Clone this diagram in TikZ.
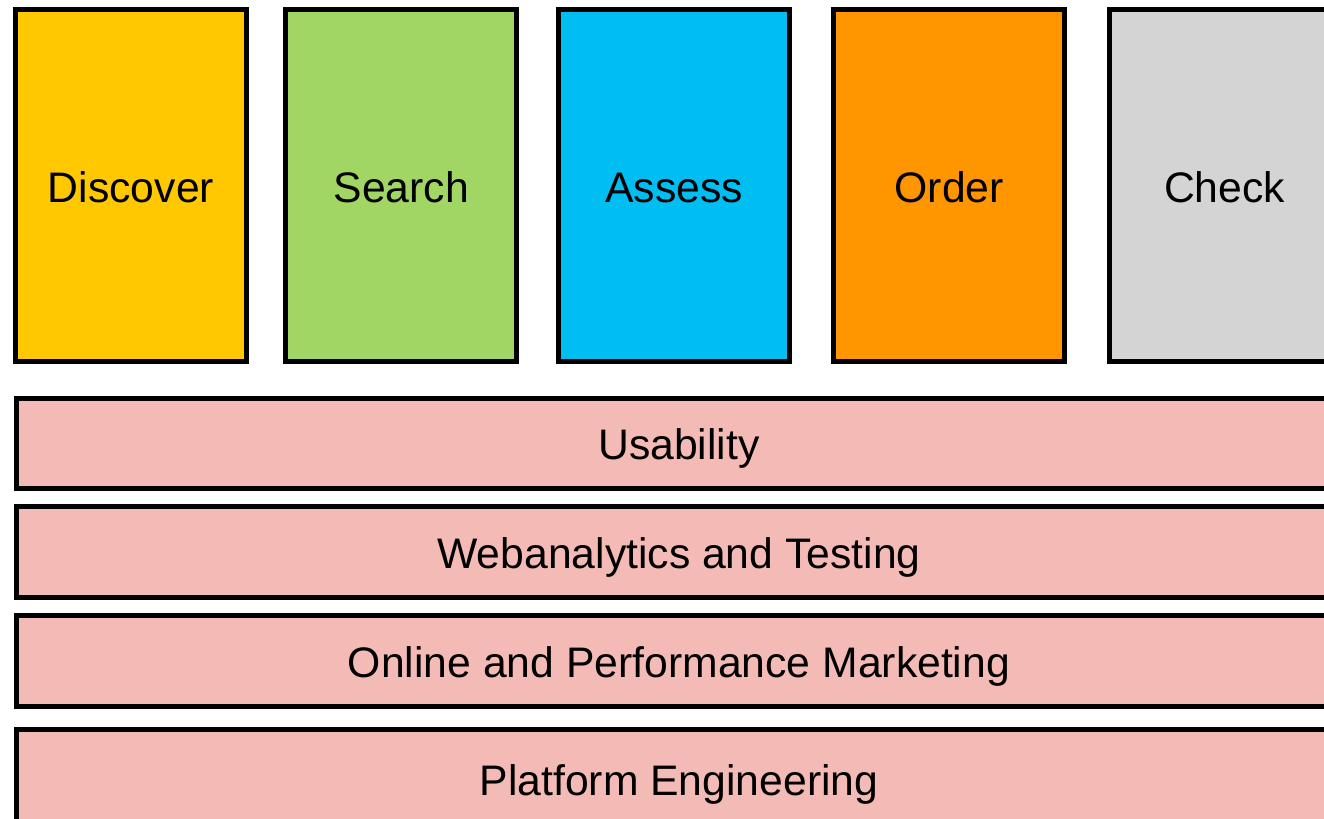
\documentclass[tikz,border=0pt]{standalone}
\usepackage{fontspec}
\setmainfont{Liberation Sans}
\definecolor{discoveryellow}{RGB}{255,200,0}
\definecolor{searchgreen}{RGB}{162,214,100}
\definecolor{assessblue}{RGB}{0,190,242}
\definecolor{orderorange}{RGB}{255,150,0}
\definecolor{checkgrey}{RGB}{212,212,212}
\definecolor{layerpink}{RGB}{244,187,182}
\tikzset{
    phasebox/.style={draw, line width=0.1cm, minimum width=4.62cm, minimum height=7.05cm,
        inner sep=0pt, text height=0.84cm, text depth=0.16cm, font=\fontsize{24.3}{28}\selectfont},
    layerbox/.style={draw, fill=layerpink, line width=0.1cm, minimum width=26.52cm,
        inner sep=0pt, text height=0.8cm, text depth=0.16cm, font=\fontsize{24.3}{28}\selectfont},
}
\begin{document}
\begin{tikzpicture}[x=0.02cm, y=-0.02cm]
        % Fix the page to the size of the reference
        \useasboundingbox (0, 0) rectangle (1324, 818);
        \clip (0, 0) rectangle (1324, 818);

        % Phases of the journey, side by side
        \foreach \name/\x/\col/\txt in {
            discover/131/discoveryellow/Discover,
            search/401.4/searchgreen/Search,
            assess/674.2/assessblue/Assess,
            order/949.2/orderorange/Order,
            check/1224.5/checkgrey/Check
        }
        \node[phasebox, fill=\col] (\name) at (\x, 185.75) {\txt};

        % Layers running under all phases (the last one runs off the page)
        \foreach \name/\y/\h/\txt in {
            usability/443.75/1.81cm/Usability,
            webanalytics/552/1.82cm/Webanalytics and Testing,
            marketing/661/1.82cm/Online and Performance Marketing,
            engineering/779.5/2cm/Platform Engineering
        }
        \node[layerbox, minimum height=\h] (\name) at (679, \y) {\txt};
    \end{tikzpicture}
\end{document}
